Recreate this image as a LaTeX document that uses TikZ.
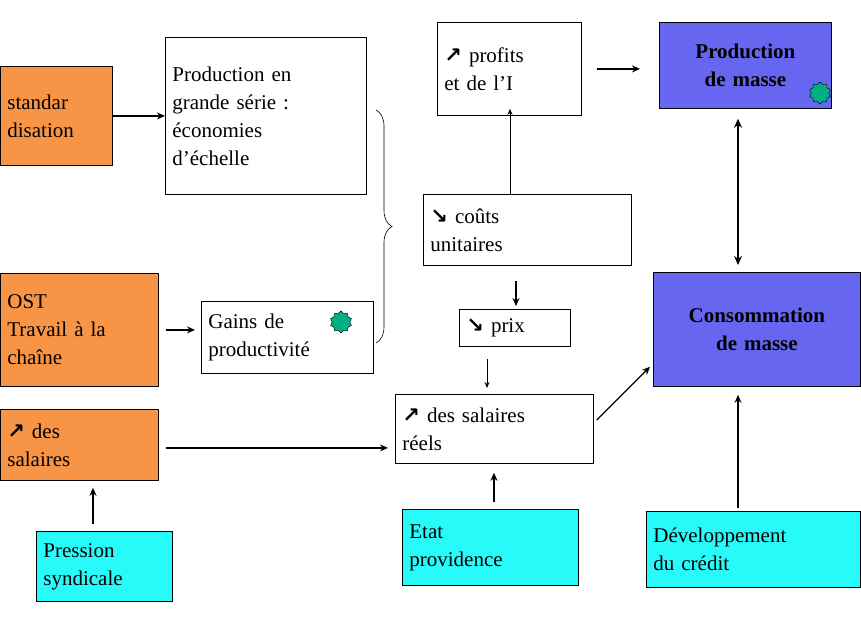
\documentclass[tikz,border=0pt]{standalone}
\usepackage{fontspec}
\setmainfont{Liberation Serif}
\newfontfamily\symf{DejaVu Sans}
\usetikzlibrary{shapes.geometric,arrows.meta,decorations.pathreplacing}
\definecolor{orng}{RGB}{247,148,70}
\definecolor{cyn}{RGB}{40,250,250}
\definecolor{blu}{RGB}{102,102,240}
\definecolor{grn}{RGB}{0,175,130}
\newcommand{\up}{{\symf\bfseries ↗}}
\newcommand{\dn}{{\symf\bfseries ↘}}
\tikzset{
 bx/.style={draw=black, line width=0.8pt, anchor=north west, align=left, inner xsep=7pt, font=\fontsize{21}{28}\selectfont},
 ar/.style={-{Stealth[length=8pt,width=7pt]}, line width=1.2pt},
 arthin/.style={-{Stealth[length=6pt,width=5pt]}, line width=0.6pt},
 sealstar/.style={star, star points=10, star point ratio=1.25, fill=grn, draw=black, line width=0.4pt, minimum size=22pt, inner sep=0pt}
}
\newcommand{\bx}[7]{\node[bx,fill=#6,minimum width=#4pt-#2pt,minimum height=#5pt-#3pt,text width=#4pt-#2pt-14pt] (#1) at (#2pt,-#3pt) {#7};}
\begin{document}
\begin{tikzpicture}[x=1pt,y=1pt]
\useasboundingbox (0,0) rectangle (861,-638);
\bx{std}{0}{66}{112}{165}{orng}{standar\\disation}
\bx{prod}{165}{37}{366}{194}{white}{Production en\\grande série :\\économies\\d’échelle}
\bx{ost}{0}{273}{158}{386}{orng}{OST\\Travail à la\\chaîne}
\bx{gains}{201}{301}{373}{373}{white}{Gains de\\productivité}
\bx{sal}{0}{409}{158}{480}{orng}{\up\ des\\salaires}
\bx{pres}{36}{531}{172}{601}{cyn}{Pression\\syndicale}
\bx{prof}{437}{22}{581}{115}{white}{\up\ profits\\et de l’I\\[6pt]}
\bx{cout}{423}{194}{631}{265}{white}{\dn\ coûts\\unitaires}
\bx{prix}{459}{309}{570}{346}{white}{\dn\ prix}
\bx{reel}{395}{394}{593}{463}{white}{\up\ des salaires\\réels}
\bx{etat}{402}{509}{578}{585}{cyn}{Etat\\providence}
\bx{dev}{646}{511}{860}{587}{cyn}{Développement\\du crédit}
\node[bx,fill=blu,minimum width=172pt,minimum height=86pt,text width=158pt,align=center,font=\fontsize{21}{28}\selectfont\bfseries] (pm) at (659,-22) {Production\\de masse\\[10pt]};
\node[bx,fill=blu,minimum width=207pt,minimum height=114pt,text width=193pt,align=center,font=\fontsize{21}{28}\selectfont\bfseries] (cm) at (653,-272) {Consommation\\de masse\\[26pt]};
\node[sealstar] (s1) at (341,-322) {};
\node[sealstar] (s2) at (820,-93) {};
\coordinate (b1) at (376,-110);
\coordinate (b2) at (376,-343);
\draw[line width=0.6pt, decorate, decoration={brace, amplitude=16pt, aspect=0.5}] (b1) -- (b2);
\coordinate (sa) at ([yshift=-3pt]sal.east);
\coordinate (xa) at (93,0);
\coordinate (xb) at (510,0);
\coordinate (xc) at (516,0);
\coordinate (xd) at (487,0);
\coordinate (xe) at (494,0);
\coordinate (xf) at (738,0);
\draw[ar] (std.east) -- (prod.west |- std.east);
\draw[ar] ([xshift=7pt]ost.east) -- ([xshift=-6pt]gains.west |- ost.east);
\draw[ar] ([xshift=7pt]sa) -- ([xshift=-7pt]reel.west |- sa);
\draw[ar] ([yshift=7pt]pres.north -| xa) -- ([yshift=-7pt]sal.south -| xa);
\draw[ar] ([xshift=15pt]prof.east) -- ([xshift=-19pt]pm.west |- prof.east);
\draw[arthin] (cout.north -| xb) -- ([yshift=7pt]prof.south -| xb);
\draw[ar] ([yshift=-15pt]cout.south -| xc) -- ([yshift=3pt]prix.north -| xc);
\draw[arthin] ([yshift=-12pt]prix.south -| xd) -- ([yshift=6pt]reel.north -| xd);
\draw[ar] ([xshift=3pt,yshift=-26pt]reel.north east) -- ([xshift=-3pt,yshift=20pt]cm.south west);
\draw[ar] ([yshift=7pt]etat.north -| xe) -- ([yshift=-9pt]reel.south -| xe);
\draw[{Stealth[length=9pt,width=8pt]}-{Stealth[length=9pt,width=8pt]}, line width=2pt] ([yshift=-10pt]pm.south -| xf) -- ([yshift=7pt]cm.north -| xf);
\draw[ar] ([yshift=3pt]dev.north -| xf) -- ([yshift=-8pt]cm.south -| xf);
\end{tikzpicture}
\end{document}
